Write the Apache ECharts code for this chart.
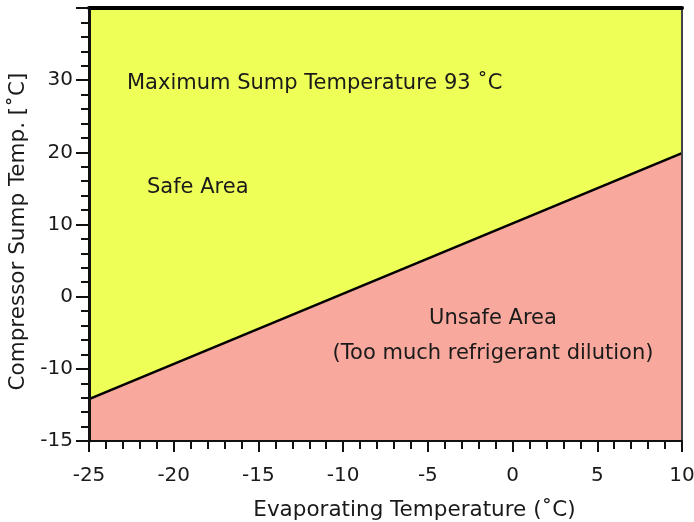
<!DOCTYPE html>
<html>
<head>
<meta charset="utf-8">
<script src="https://cdn.jsdelivr.net/npm/echarts@6/dist/echarts.min.js"></script>
<style>
html,body{margin:0;padding:0;background:#fff;}
#chart{width:694px;height:522px;}
</style>
</head>
<body>
<div id="chart"></div>
<script>
// Boundary line between safe and unsafe areas
var boundaryX = [-25, 10];
var boundaryY = [-14.2, 19.9];

// Axis ranges and tick labels
var xMin = -25, xMax = 10, xInterval = 5;
var yMin = -20, yMax = 40, yInterval = 10;
var yTickValues = [-20, -10, 0, 10, 20, 30, 40];
var yTickLabels = ['-15', '-10', '0', '10', '20', '30', ''];

var xTitle = 'Evaporating Temperature (\u02DAC)';
var yTitle = 'Compressor Sump Temp. [\u02DAC]';
var textMax = 'Maximum Sump Temperature 93 \u02DAC';
var textSafe = 'Safe Area';
var textUnsafe = 'Unsafe Area';
var textDilution = '(Too much refrigerant dilution)';

var FONT = '"DejaVu Sans", Verdana, sans-serif';

var lineData = boundaryX.map(function (x, i) { return [x, boundaryY[i]]; });

var chart = echarts.init(document.getElementById('chart'));
chart.setOption({
  animation: false,
  backgroundColor: '#ffffff',
  grid: {
    left: 89, right: 12, top: 8, bottom: 81,
    containLabel: false, outerBoundsMode: 'none',
    show: true, backgroundColor: '#eeff58', borderWidth: 0
  },
  xAxis: [{
    type: 'value', min: xMin, max: xMax, interval: xInterval,
    position: 'bottom', z: 5,
    axisLine: { show: true, onZero: false, lineStyle: { color: '#111', width: 2 } },
    axisTick: { show: true, inside: false, length: 11, lineStyle: { color: '#111', width: 2 } },
    minorTick: { show: true, splitNumber: 5, length: 8, lineStyle: { color: '#111', width: 2 } },
    splitLine: { show: false },
    axisLabel: { margin: 25, color: '#1a1a1a', fontFamily: FONT, fontSize: 20 },
    name: xTitle, nameLocation: 'middle', nameGap: 58,
    nameTextStyle: { color: '#1a1a1a', fontFamily: FONT, fontSize: 21.5, padding: [0, 0, 0, 58] }
  }, {
    type: 'value', min: xMin, max: xMax, interval: xInterval,
    position: 'top', z: 5,
    axisLine: { show: true, onZero: false, lineStyle: { color: '#000', width: 4 } },
    axisTick: { show: false }, axisLabel: { show: false }, splitLine: { show: false }
  }],
  yAxis: [{
    type: 'value', min: yMin, max: yMax, interval: yInterval,
    position: 'left', z: 5,
    axisLine: { show: true, onZero: false, lineStyle: { color: '#111', width: 3 } },
    axisTick: { show: true, inside: false, length: 13, lineStyle: { color: '#111', width: 2 } },
    minorTick: { show: true, splitNumber: 5, length: 8, lineStyle: { color: '#111', width: 2 } },
    splitLine: { show: false },
    axisLabel: {
      margin: 16, color: '#1a1a1a', fontFamily: FONT, fontSize: 20,
      formatter: function (v) {
        var i = yTickValues.indexOf(v);
        return i >= 0 ? yTickLabels[i] : '';
      }
    },
    name: yTitle, nameLocation: 'middle', nameGap: 56,
    nameTextStyle: { color: '#1a1a1a', fontFamily: FONT, fontSize: 21.5, padding: [0, 14, 0, 0] }
  }, {
    type: 'value', min: yMin, max: yMax, interval: yInterval,
    position: 'right', z: 5,
    axisLine: { show: true, onZero: false, lineStyle: { color: '#444', width: 2 } },
    axisTick: { show: false }, axisLabel: { show: false }, splitLine: { show: false }
  }],
  series: [{
    type: 'line',
    xAxisIndex: 0, yAxisIndex: 0,
    data: lineData,
    showSymbol: false,
    lineStyle: { color: '#000', width: 2.5 },
    areaStyle: { color: '#f8a89c', opacity: 1, origin: 'start' },
    z: 2
  }],
  graphic: [
    { type: 'text', x: 127, y: 84, z: 10,
      style: { text: textMax, fill: '#1a1a1a', font: '21px ' + FONT, textAlign: 'left', textVerticalAlign: 'middle' } },
    { type: 'text', x: 147, y: 188, z: 10,
      style: { text: textSafe, fill: '#1a1a1a', font: '21px ' + FONT, textAlign: 'left', textVerticalAlign: 'middle' } },
    { type: 'text', x: 493, y: 319, z: 10,
      style: { text: textUnsafe, fill: '#1a1a1a', font: '21px ' + FONT, textAlign: 'center', textVerticalAlign: 'middle' } },
    { type: 'text', x: 493, y: 354, z: 10,
      style: { text: textDilution, fill: '#1a1a1a', font: '21px ' + FONT, textAlign: 'center', textVerticalAlign: 'middle' } }
  ]
});
</script>
</body>
</html>
